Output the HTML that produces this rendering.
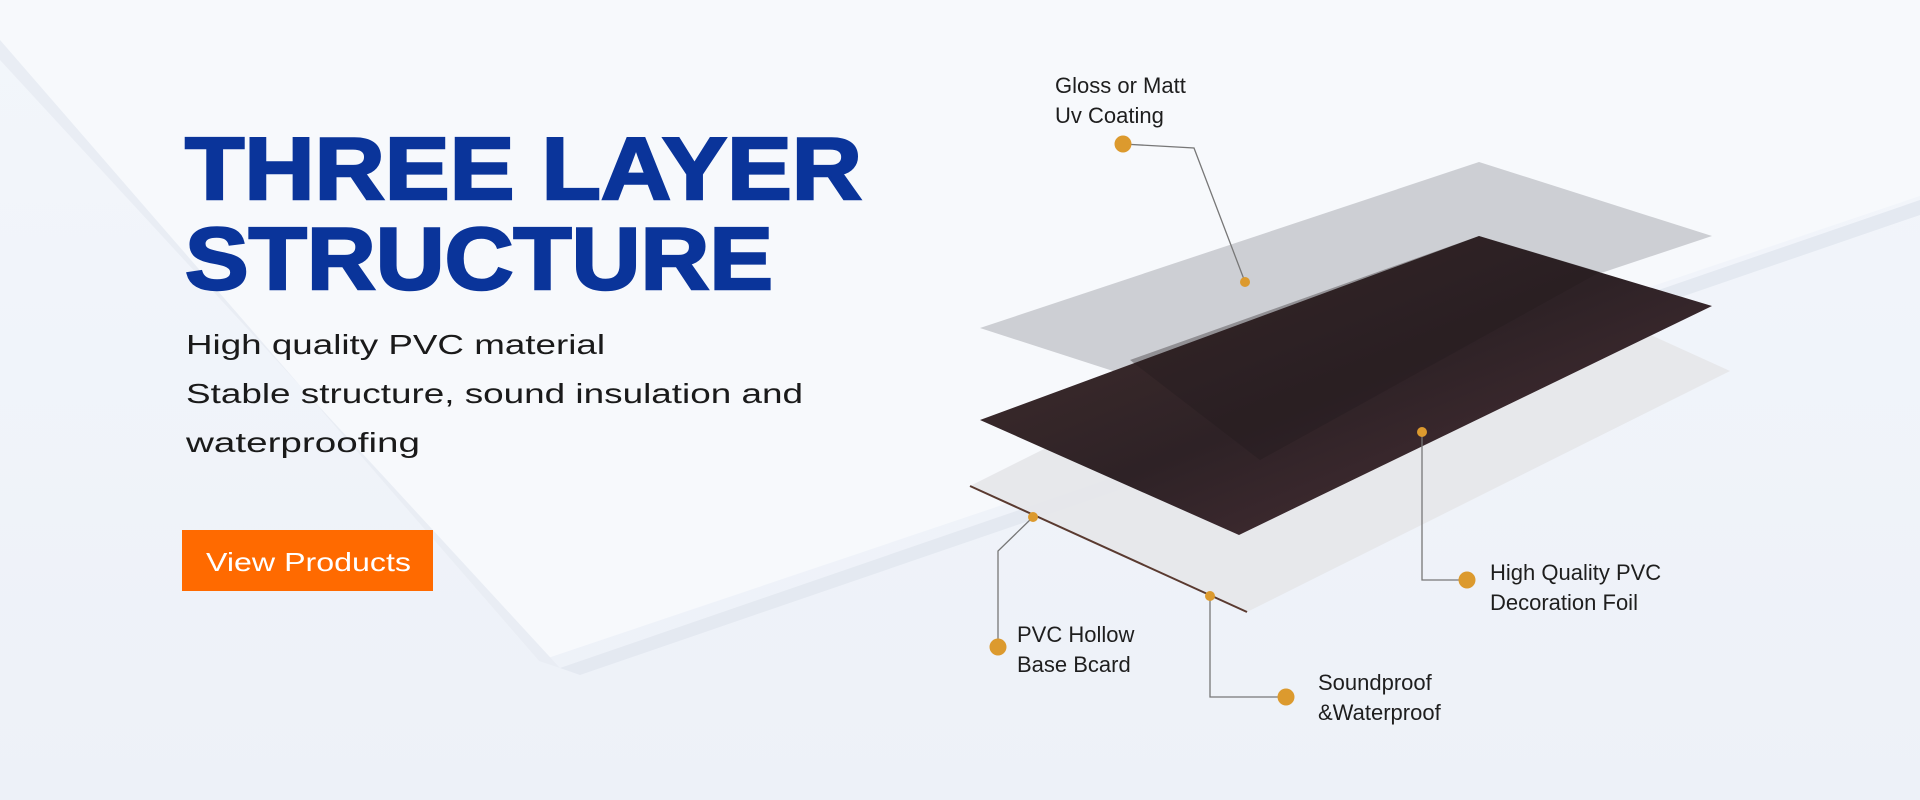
<!DOCTYPE html>
<html><head><meta charset="utf-8"><style>
html,body{margin:0;padding:0;width:1920px;height:800px;overflow:hidden;background:#eef2f9}
svg{display:block}
</style></head><body>
<svg width="1920" height="800" viewBox="0 0 1920 800" xmlns="http://www.w3.org/2000/svg">
<defs>
<linearGradient id="bg" x1="0" y1="0" x2="0" y2="1">
<stop offset="0" stop-color="#f3f6fb"/><stop offset="1" stop-color="#edf1f8"/>
</linearGradient>
<linearGradient id="wood" x1="0" y1="0" x2="1" y2="1">
<stop offset="0" stop-color="#45302f"/><stop offset="0.5" stop-color="#2e2226"/><stop offset="1" stop-color="#50333a"/>
</linearGradient>
</defs>
<rect width="1920" height="800" fill="url(#bg)"/>
<polygon points="0,0 1920,0 1920,196 539,661 0,40" fill="#f7f9fc"/>
<polygon points="0,40 539,661 560,668 0,60" fill="#e9edf4"/>
<polygon points="560,668 1920,200 1920,215 580,675" fill="#e4e9f1"/>
<polygon points="970,486 1453,245 1730,371 1247,612" fill="#e6e7ea" opacity="0.95"/>
<line x1="970" y1="486" x2="1247" y2="612" stroke="#5a3a30" stroke-width="2"/>
<polygon points="980,328 1479,162 1712,236 1212,403" fill="#a4a6ab" opacity="0.5"/>
<polygon points="980,420 1479,236 1712,306 1239,535" fill="url(#wood)"/>
<polygon points="1130,360 1479,236 1600,272 1260,460" fill="#221a1d" opacity="0.35"/>
<g stroke="#777" stroke-width="1.3" fill="none">
<polyline points="1123,144 1194,148 1245,282"/>
<polyline points="1422,432 1422,580 1467,580"/>
<polyline points="1033,517 998,551 998,647"/>
<polyline points="1210,596 1210,697 1286,697"/>
</g>
<g fill="#dc9a2e">
<circle cx="1123" cy="144" r="8.5"/><circle cx="1245" cy="282" r="5"/>
<circle cx="1422" cy="432" r="5"/><circle cx="1467" cy="580" r="8.5"/>
<circle cx="1033" cy="517" r="5"/><circle cx="998" cy="647" r="8.5"/>
<circle cx="1210" cy="596" r="5"/><circle cx="1286" cy="697" r="8.5"/>
</g>
<g font-family="Liberation Sans, sans-serif" font-size="22" fill="#1e1e1e">
<text x="1055" y="93">Gloss or Matt</text>
<text x="1055" y="123">Uv Coating</text>
<text x="1490" y="580">High Quality PVC</text>
<text x="1490" y="610">Decoration Foil</text>
<text x="1017" y="642">PVC Hollow</text>
<text x="1017" y="672">Base Bcard</text>
<text x="1318" y="690">Soundproof</text>
<text x="1318" y="720">&amp;Waterproof</text>
</g>
<g font-family="Liberation Sans, sans-serif" font-weight="bold" fill="#0a349a">
<text x="185" y="199" font-size="88" textLength="677" lengthAdjust="spacingAndGlyphs" stroke="#0a349a" stroke-width="2.5">THREE LAYER</text>
<text x="185" y="289" font-size="88" textLength="588" lengthAdjust="spacingAndGlyphs" stroke="#0a349a" stroke-width="2.5">STRUCTURE</text>
</g>
<g font-family="Liberation Sans, sans-serif" font-size="28" fill="#1a1a1a">
<text x="186" y="354" textLength="419" lengthAdjust="spacingAndGlyphs">High quality PVC material</text>
<text x="186" y="403" textLength="617" lengthAdjust="spacingAndGlyphs">Stable structure, sound insulation and</text>
<text x="186" y="452" textLength="234" lengthAdjust="spacingAndGlyphs">waterproofing</text>
</g>
<rect x="182" y="530" width="251" height="61" fill="#ff6a00"/>
<text x="206" y="571" font-family="Liberation Sans, sans-serif" font-size="26" fill="#fff" textLength="205" lengthAdjust="spacingAndGlyphs">View Products</text>
</svg>
</body></html>
